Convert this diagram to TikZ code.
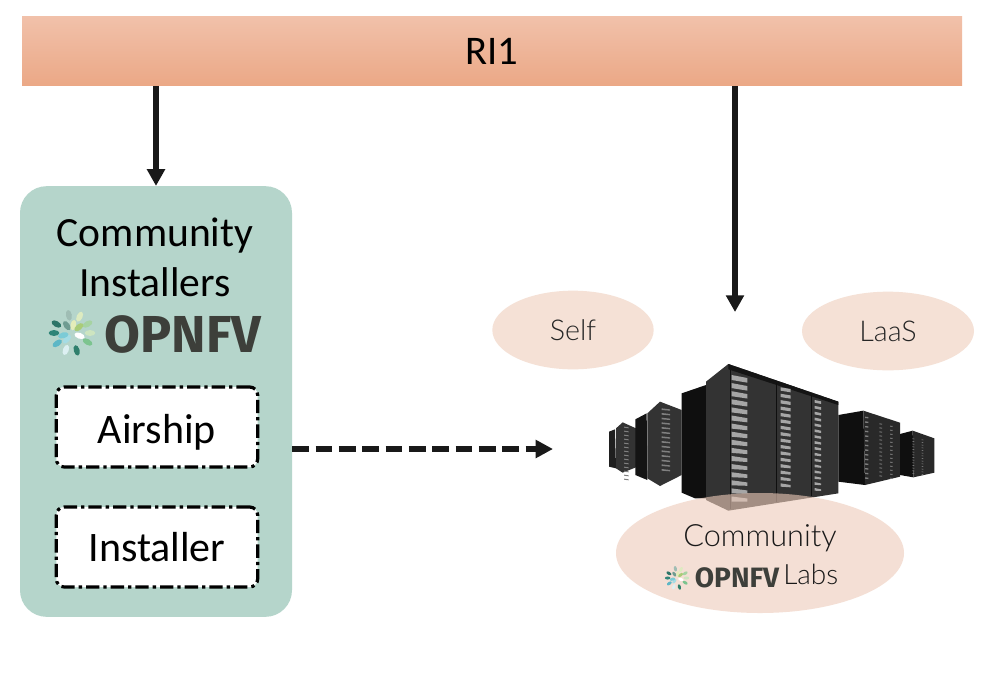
\documentclass[tikz,border=0pt]{standalone}
\usepackage{fontspec}
\setmainfont{Carlito}
\newfontfamily\gill{Lato Light}
\newfontfamily\logofont{Fira Sans}
\usetikzlibrary{arrows.meta,shapes.geometric,calc}
\definecolor{teal1}{HTML}{B5D5CB}
\definecolor{peach}{HTML}{F5E1D6}
\definecolor{logodark}{HTML}{3D3F3A}
\definecolor{barA}{HTML}{F1C1AA}
\definecolor{barB}{HTML}{EBA886}
\definecolor{overl}{RGB}{238,203,185}
\tikzset{
  px/.style={x=0.75pt,y=-0.75pt},
  conn/.style={draw=black!90,line width=3.8pt,-{Triangle[length=12.5pt,width=13pt]}},
  dconn/.style={draw=black!90,line width=3.8pt,dash pattern=on 12.5pt off 5pt,-{Triangle[length=13pt,width=13pt]}},
  optbox/.style={draw=black,fill=white,line width=2.4pt,rounded corners=6pt,dash pattern=on 10pt off 3pt on 2.5pt off 3pt,minimum width=151pt,minimum height=60pt,inner sep=0pt,font=\fontsize{31.5}{33}\selectfont},
  labellip/.style={ellipse,fill=peach,inner sep=0pt,font=\gill\fontsize{21.5}{24}\selectfont,text=black!85},
}
\newcommand{\opnfvleaves}[2]{%
  \begin{scope}[shift={#1},scale=#2]
  \foreach \a/\r/\c in {100/18/9FBDB4,65/18/DDEBC0,30/18/A6D3A2,0/18/CDE5C0,-30/18/7CC48F,-75/18/2F7F6C,-110/18/DCF0F2,-145/18/5DB7C6,180/18/2F8578,150/18/2C7568,125/9/6F9C92,80/8/E4EDB9,40/9/A9CC78,-20/8/FFFFFF,-130/8/A5DCE4,-165/9/7CCBD6}{
    \definecolor{lf}{HTML}{\c}
    \fill[fill=lf,rotate=\a] (\r*0.75pt,0) ellipse[x radius=4pt,y radius=2.2pt];
  }
  \end{scope}}
\begin{document}
\begin{tikzpicture}[px]
\useasboundingbox (0,0) rectangle (1002,672);
\fill[white] (0,0) rectangle (1002,672);
% bar
\node[rectangle,top color=barA,bottom color=barB,minimum width=705pt,minimum height=52pt,inner sep=0pt,font=\fontsize{30.5}{32}\selectfont] (ri) at (492,51) {RI1};
% installers panel
\node[fill=teal1,rounded corners=20pt,minimum width=204pt,minimum height=323pt,inner sep=0pt] (inst) at (156,401.5) {};
\node[font=\fontsize{31.2}{37.5}\selectfont,align=center] (insttitle) at (155,257) {Community\\Installers};
\node[optbox,text depth=0pt] (airship) at (157,427) {\raisebox{-3pt}{Airship}};
\node[optbox] (installer) at (157,547) {\raisebox{-3.5pt}{Installer}};
\node[font=\logofont\bfseries\fontsize{39}{39}\selectfont,text=logodark,inner sep=0pt] (logoA) at (183,334) {OPNFV};
\opnfvleaves{(72,333)}{1}
% ellipses
\node[labellip,minimum width=121pt,minimum height=59pt] (self) at (573,330) {Self};
\node[labellip,minimum width=129pt,minimum height=59pt] (laas) at (888,331) {LaaS};
% servers
\begin{scope}[shift={(600,350)},x=0.25pt,y=-0.25pt]
  \fill[black!88] (27,245)--(45,238)--(48,355)--(27,350)--cycle;
  \fill[black!80] (48,235)--(68,217)--(108,235)--(108,352)--(68,368)--(48,355)--cycle;
  \fill[black!92] (106,208)--(140,190)--(142,390)--(106,375)--cycle;
  \fill[black!80] (142,190)--(180,155)--(245,180)--(245,375)--(180,408)--(142,385)--cycle;
  \fill[black!94] (245,130)--(318,105)--(318,445)--(285,445)--(245,428)--cycle;
  \fill[black!94] (715,195)--(790,182)--(795,405)--(715,395)--cycle;
  \fill[black!84] (790,182)--(900,218)--(900,380)--(795,405)--cycle;
  \fill[black!94] (900,252)--(938,242)--(940,382)--(900,375)--cycle;
  \fill[black!84] (938,242)--(1003,265)--(1003,368)--(940,382)--cycle;
  \fill[black!80] (318,95)--(385,42)--(715,155)--(715,430)--(385,482)--(318,450)--cycle;
  \fill[black!92] (385,42)--(715,155)--(715,165)--(385,58)--cycle;
  \draw[black!94,line width=1.2pt] (530,98)--(530,455) (635,135)--(635,438) (392,60)--(392,478);
  \foreach \i in {0,...,15}{
    \pgfmathsetmacro\ya{75+\i*24.3}\pgfmathsetmacro\yb{112+\i*19.2}\pgfmathsetmacro\yc{150+\i*17.6}
    \fill[black!35] (395,\ya)--(442,\ya+9-\i*0.2)--(442,\ya+23-\i*0.5)--(395,\ya+15)--cycle;
    \fill[black!35] (542,\yb)--(572,\yb+5)--(572,\yb+15-\i*0.2)--(542,\yb+10)--cycle;
    \fill[black!35] (644,\yc)--(663,\yc+4)--(663,\yc+12-\i*0.2)--(644,\yc+8)--cycle;
  }
  \foreach \i in {0,...,13}{
    \pgfmathsetmacro\ya{175+\i*14}\pgfmathsetmacro\yb{215+\i*12}\pgfmathsetmacro\yc{265+\i*8}
    \fill[black!50] (185,\ya)--(210,\ya+3)--(210,\ya+7)--(185,\ya+5)--cycle;
    \fill[black!50] (72,\yb+15)--(86,\yb+17)--(86,\yb+20)--(72,\yb+18)--cycle;
    \fill[black!50] (795,\ya+25)--(805,\ya+26)--(805,\ya+30)--(795,\ya+29)--cycle;
    \fill[black!55] (838,\yb+5)--(846,\yb+6)--(846,\yb+9)--(838,\yb+8)--cycle;
    \fill[black!55] (870,\yb+12)--(878,\yb+13)--(878,\yb+16)--(870,\yb+15)--cycle;
    \fill[black!55] (937,\yc)--(943,\yc+1)--(943,\yc+3)--(937,\yc+2)--cycle;
    \fill[black!55] (965,\yc+3)--(970,\yc+4)--(970,\yc+6)--(965,\yc+5)--cycle;
  }
\end{scope}
\fill[fill=overl,fill opacity=0.6] (760,553) ellipse[x radius=144,y radius=60];
\node[font=\gill\fontsize{23}{24}\selectfont,text=black!90,inner sep=0pt] (comm) at (760,538) {Community};
\node[font=\gill\fontsize{21}{21}\selectfont,text=black!90,inner sep=0pt,anchor=west] (labs) at (783,574) {Labs};
\node[font=\logofont\bfseries\fontsize{21}{21}\selectfont,text=logodark,inner sep=0pt] (logoB) at (737,578) {OPNFV};
\opnfvleaves{(677,578)}{0.52}
% connectors
\coordinate (topend) at (735,312);
\coordinate (dashend) at (553,449);
\draw[conn] (ri.south -| inst.north) -- (inst.north);
\draw[conn] (ri.south -| topend) -- (topend);
\draw[dconn] (inst.east |- dashend) -- (dashend);
\end{tikzpicture}
\end{document}
